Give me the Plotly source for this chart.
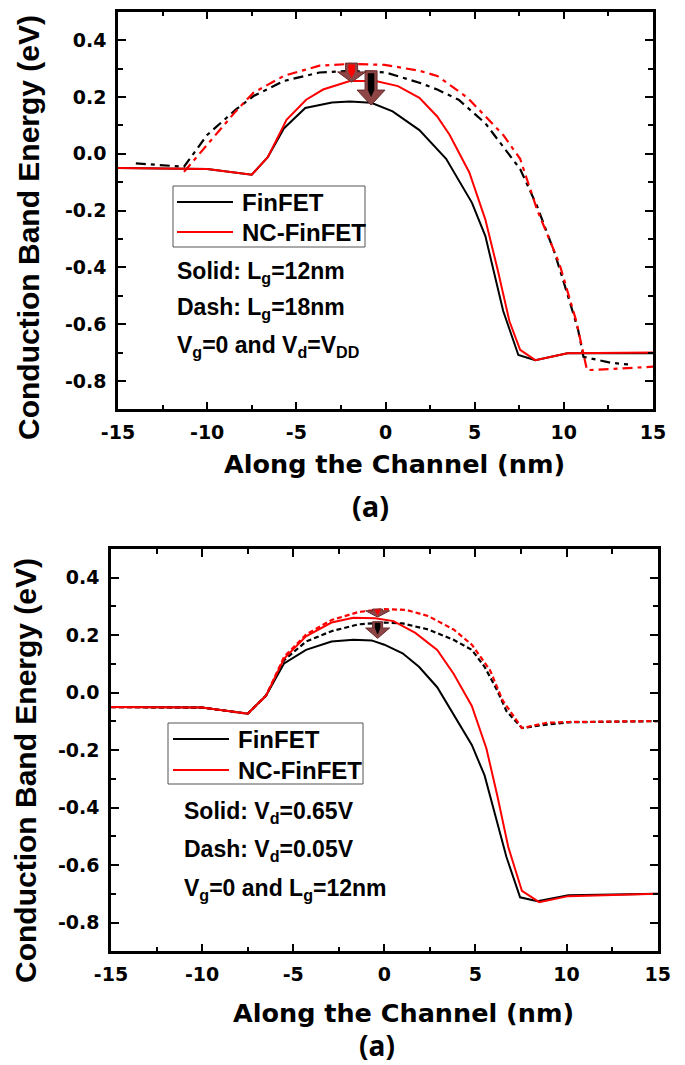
import plotly.graph_objects as go

W, H = 685, 1065
OFF = 8  # page body margin that the browser adds around the figure

# ---------------- Top panel: Lg = 12 nm (solid) vs Lg = 18 nm (dash) ----------------
top_fin_solid_x = [-15, -10, -7.5, -6.6, -5.7, -4.5, -3.0, -2.0, -0.8, 0.4, 1.9, 3.4, 4.85, 5.6, 6.6, 7.45, 8.4, 10.2, 15]
top_fin_solid_y = [-0.05, -0.054, -0.074, -0.012, 0.089, 0.161, 0.18, 0.184, 0.179, 0.149, 0.083, -0.018, -0.173, -0.29, -0.554, -0.709, -0.727, -0.703, -0.703]

top_nc_solid_x = [-15, -10, -7.5, -6.6, -5.55, -4.45, -3.5, -2.0, -0.55, 0.7, 1.9, 2.9, 3.6, 4.7, 5.6, 6.3, 6.95, 7.55, 8.4, 10.2, 15]
top_nc_solid_y = [-0.05, -0.054, -0.074, -0.012, 0.119, 0.19, 0.226, 0.256, 0.256, 0.238, 0.197, 0.131, 0.066, -0.066, -0.232, -0.411, -0.59, -0.691, -0.727, -0.703, -0.70]

top_fin_dash_x = [-14, -11.7, -11.3, -10, -8.4, -7.4, -5.7, -3.7, -2.0, 0.0, 1.9, 2.9, 4.1, 5.6, 6.6, 7.55, 8.5, 9.5, 10.3, 10.8, 11.1, 12.6, 13.6]
top_fin_dash_y = [-0.034, -0.043, -0.046, 0.066, 0.155, 0.203, 0.256, 0.286, 0.292, 0.286, 0.25, 0.226, 0.19, 0.107, 0.024, -0.054, -0.185, -0.352, -0.515, -0.62, -0.715, -0.736, -0.742]

top_nc_dash_x = [-11.3, -9.85, -8.4, -7.4, -5.7, -3.7, -2.0, -0.05, 1.9, 2.9, 4.6, 6.6, 7.55, 8.5, 9.75, 10.7, 11.3, 12.6, 15]
top_nc_dash_y = [-0.064, 0.042, 0.149, 0.215, 0.274, 0.31, 0.316, 0.313, 0.292, 0.274, 0.197, 0.066, -0.018, -0.197, -0.387, -0.59, -0.762, -0.758, -0.75]

# ---------------- Bottom panel: Vd = 0.65 V (solid) vs Vd = 0.05 V (dash) ----------------
bot_fin_solid_x = [-15, -10, -7.5, -6.5, -5.5, -4.3, -2.9, -1.7, -0.7, 0.0, 1.0, 1.9, 2.9, 3.8, 4.8, 5.5, 6.2, 6.7, 7.45, 8.4, 10.1, 15]
bot_fin_solid_y = [-0.05, -0.052, -0.073, -0.011, 0.102, 0.149, 0.178, 0.184, 0.182, 0.167, 0.137, 0.09, 0.019, -0.076, -0.182, -0.288, -0.454, -0.572, -0.712, -0.726, -0.705, -0.70]

bot_nc_solid_x = [-15, -10, -7.5, -6.5, -5.5, -4.3, -2.9, -1.7, -0.5, 0.5, 1.7, 2.9, 3.8, 4.8, 5.6, 6.2, 6.8, 7.55, 8.5, 10.1, 15]
bot_nc_solid_y = [-0.05, -0.052, -0.073, -0.011, 0.119, 0.196, 0.244, 0.261, 0.259, 0.249, 0.208, 0.149, 0.066, -0.046, -0.194, -0.359, -0.537, -0.69, -0.729, -0.708, -0.70]

bot_fin_dash_x = [-15, -10, -7.5, -6.5, -5.5, -4.3, -2.9, -1.4, 0.0, 1.0, 2.4, 3.8, 4.8, 5.5, 6.2, 6.7, 7.55, 8.9, 10.1, 15]
bot_fin_dash_y = [-0.05, -0.052, -0.073, -0.011, 0.113, 0.178, 0.214, 0.238, 0.244, 0.241, 0.22, 0.184, 0.149, 0.09, 0.007, -0.064, -0.123, -0.111, -0.103, -0.099]

bot_nc_dash_x = [-15, -10, -7.5, -6.5, -5.5, -4.3, -2.9, -1.4, 0.0, 1.2, 2.4, 3.8, 4.8, 5.8, 6.5, 7.55, 8.9, 10.1, 15]
bot_nc_dash_y = [-0.05, -0.052, -0.073, -0.011, 0.125, 0.202, 0.253, 0.281, 0.291, 0.288, 0.267, 0.22, 0.167, 0.078, -0.028, -0.123, -0.105, -0.102, -0.099]

# tick labels (hyphen-minus as in the original)
x_tick_vals = [-15, -10, -5, 0, 5, 10, 15]
x_tick_text = ["-15", "-10", "-5", "0", "5", "10", "15"]
y_tick_vals = [-0.8, -0.6, -0.4, -0.2, 0.0, 0.2, 0.4]
y_tick_text = ["-0.8", "-0.6", "-0.4", "-0.2", "0.0", "0.2", "0.4"]

series_names = ["FinFET", "NC-FinFET"]

# arrows: (axis suffix, center x, top y, head-base y, tip y, inner colour)
arrows = [
    ("", -1.9, 0.319, 0.288, 0.252, "red"),
    ("", -0.81, 0.292, 0.224, 0.171, "black"),
    ("2", -0.37, 0.291, 0.285, 0.263, "red"),
    ("2", -0.37, 0.247, 0.225, 0.189, "black"),
]

x_range = [-15, 15]
y_range = [-0.9, 0.5]


def px_x(p):
    return (p - OFF) / W


def px_y(p):
    return 1 - (p - OFF) / H


BLACK = "#000000"
RED = "#ff0000"
TOP_DASH = "10px,5px,4px,5px"
BOT_DASH = "5px,3px"

fig = go.Figure()


def add(x, y, color, dash, ax, name):
    fig.add_trace(go.Scatter(x=x, y=y, mode="lines", name=name, showlegend=False,
                             line=dict(color=color, width=2.2 if dash else 2, dash=dash),
                             xaxis="x" + ax, yaxis="y" + ax))


# top panel traces
add(top_fin_dash_x, top_fin_dash_y, BLACK, TOP_DASH, "", series_names[0] + " (Lg=18nm)")
add(top_nc_dash_x, top_nc_dash_y, RED, TOP_DASH, "", series_names[1] + " (Lg=18nm)")
add(top_fin_solid_x, top_fin_solid_y, BLACK, None, "", series_names[0])
add(top_nc_solid_x, top_nc_solid_y, RED, None, "", series_names[1])
# bottom panel traces
add(bot_fin_dash_x, bot_fin_dash_y, BLACK, BOT_DASH, "2", series_names[0] + " (Vd=0.05V)")
add(bot_nc_dash_x, bot_nc_dash_y, RED, BOT_DASH, "2", series_names[1] + " (Vd=0.05V)")
add(bot_fin_solid_x, bot_fin_solid_y, BLACK, None, "2", series_names[0])
add(bot_nc_solid_x, bot_nc_solid_y, RED, None, "2", series_names[1])

tickfont = dict(family="DejaVu Sans", size=19, color="black", weight="bold")
axis_common = dict(showline=True, linecolor="black", linewidth=2.5, mirror="allticks",
                   ticks="inside", ticklen=8, tickwidth=2, tickcolor="black", automargin=False,
                   showgrid=False, zeroline=False, tickfont=tickfont)

xa = dict(axis_common, range=x_range, tickmode="array", tickvals=x_tick_vals, ticktext=x_tick_text,
          ticklabelstandoff=4,
          minor=dict(ticks="inside", ticklen=5, tickwidth=2, tickcolor="black", dtick=2.5, tick0=0, showgrid=False))
ya = dict(axis_common, range=y_range, tickmode="array", tickvals=y_tick_vals, ticktext=y_tick_text,
          ticklabelstandoff=5,
          minor=dict(ticks="inside", ticklen=5, tickwidth=2, tickcolor="black", dtick=0.1, tick0=0, showgrid=False))

fig.update_layout(
    width=W, height=H, margin=dict(l=0, r=0, t=0, b=0, autoexpand=False),
    paper_bgcolor="white", plot_bgcolor="white", showlegend=False,
    xaxis=dict(xa, domain=[px_x(118), px_x(653)], anchor="y"),
    yaxis=dict(ya, domain=[px_y(409.3), px_y(11.7)], anchor="x"),
    xaxis2=dict(xa, domain=[px_x(111), px_x(657.7)], anchor="y2"),
    yaxis2=dict(ya, domain=[px_y(951.3), px_y(549)], anchor="x2"),
)

ann_font = dict(family="Liberation Sans", size=23, color="black", weight="bold")
leg_font = dict(family="Liberation Sans", size=24, color="black", weight="bold")
title_font = dict(family="Liberation Sans", size=30, color="black", weight="bold")
xtitle_font = dict(family="DejaVu Sans", size=25.5, color="black", weight="bold")
label_font = dict(family="Open Sans", size=29, color="black", weight="bold")
label_font2 = dict(family="Open Sans", size=28, color="black", weight="bold")

annotations = [
    # legend labels
    (series_names[0], 240, 202, leg_font, 0, "left"),
    (series_names[1], 240, 232, leg_font, 0, "left"),
    (series_names[0], 236, 739, leg_font, 0, "left"),
    (series_names[1], 236, 770, leg_font, 0, "left"),
    # top panel notes
    ("Solid: L<sub>g</sub>=12nm", 175, 272, ann_font, 0, "left"),
    ("Dash: L<sub>g</sub>=18nm", 175, 308, ann_font, 0, "left"),
    ("V<sub>g</sub>=0 and V<sub>d</sub>=V<sub>DD</sub>", 175, 346, ann_font, 0, "left"),
    # bottom panel notes
    ("Solid: V<sub>d</sub>=0.65V", 182, 812, ann_font, 0, "left"),
    ("Dash: V<sub>d</sub>=0.05V", 182, 851, ann_font, 0, "left"),
    ("V<sub>g</sub>=0 and L<sub>g</sub>=12nm", 182, 889, ann_font, 0, "left"),
    # axis titles
    ("Conduction Band Energy (eV)", 29, 228, title_font, -90, "center"),
    ("Conduction Band Energy (eV)", 25, 771, title_font, -90, "center"),
    ("Along the Channel (nm)", 394, 464, xtitle_font, 0, "center"),
    ("Along the Channel (nm)", 403, 1013, xtitle_font, 0, "center"),
    ("(a)", 370, 505, label_font, 0, "center"),
    ("(a)", 377, 1045, label_font2, 0, "center"),
]
for text, xp, yp, font, ang, xanc in annotations:
    fig.add_annotation(text=text, x=px_x(xp), y=px_y(yp), xref="paper", yref="paper",
                       xanchor=xanc, yanchor="middle", showarrow=False, font=font, textangle=ang)

shapes = []
# legend frames and samples: (box x0, y0, x1, y1, sample x0, x1, sample y1, sample y2)
legend_boxes = [(173, 186, 365, 247, 177, 233, 202, 232), (168, 723, 363, 784, 173, 229, 739, 770)]
for bx0, by0, bx1, by1, sx0, sx1, sy1, sy2 in legend_boxes:
    shapes.append(dict(type="rect", xref="paper", yref="paper", x0=px_x(bx0), x1=px_x(bx1),
                       y0=px_y(by1), y1=px_y(by0), line=dict(color="#555555", width=1)))
    for sy, col in ((sy1, BLACK), (sy2, RED)):
        shapes.append(dict(type="line", xref="paper", yref="paper", x0=px_x(sx0), x1=px_x(sx1),
                           y0=px_y(sy), y1=px_y(sy), line=dict(color=col, width=2)))

# block arrows (pixel widths anchored at data x)
for suffix, cx, ytop, ybase, ytip, inner in arrows:
    xr, yr = "x" + suffix, "y" + suffix
    big = (ytop - ytip) > 0.06
    sw, hw = (6, 14) if big else (5, 12)
    outer = (f"M{-sw},{ytop} L{sw},{ytop} L{sw},{ybase} L{hw},{ybase} L0,{ytip} "
             f"L{-hw},{ybase} L{-sw},{ybase} Z")
    shapes.append(dict(type="path", xref=xr, yref=yr, xsizemode="pixel", xanchor=cx,
                       path=outer, fillcolor="#8e4545", line=dict(color="#6a2a2a", width=1)))
    iw = 3 if big else 2.5
    ih = (ytop - ytip)
    inner_path = (f"M{-iw},{ytop - 0.08 * ih} L{iw},{ytop - 0.08 * ih} L{iw},{ybase} "
                  f"L0,{ytip + 0.25 * ih} L{-iw},{ybase} Z")
    shapes.append(dict(type="path", xref=xr, yref=yr, xsizemode="pixel", xanchor=cx,
                       path=inner_path, fillcolor=inner, line=dict(color=inner, width=0.5)))
fig.update_layout(shapes=shapes)

fig.write_html("out.html")
